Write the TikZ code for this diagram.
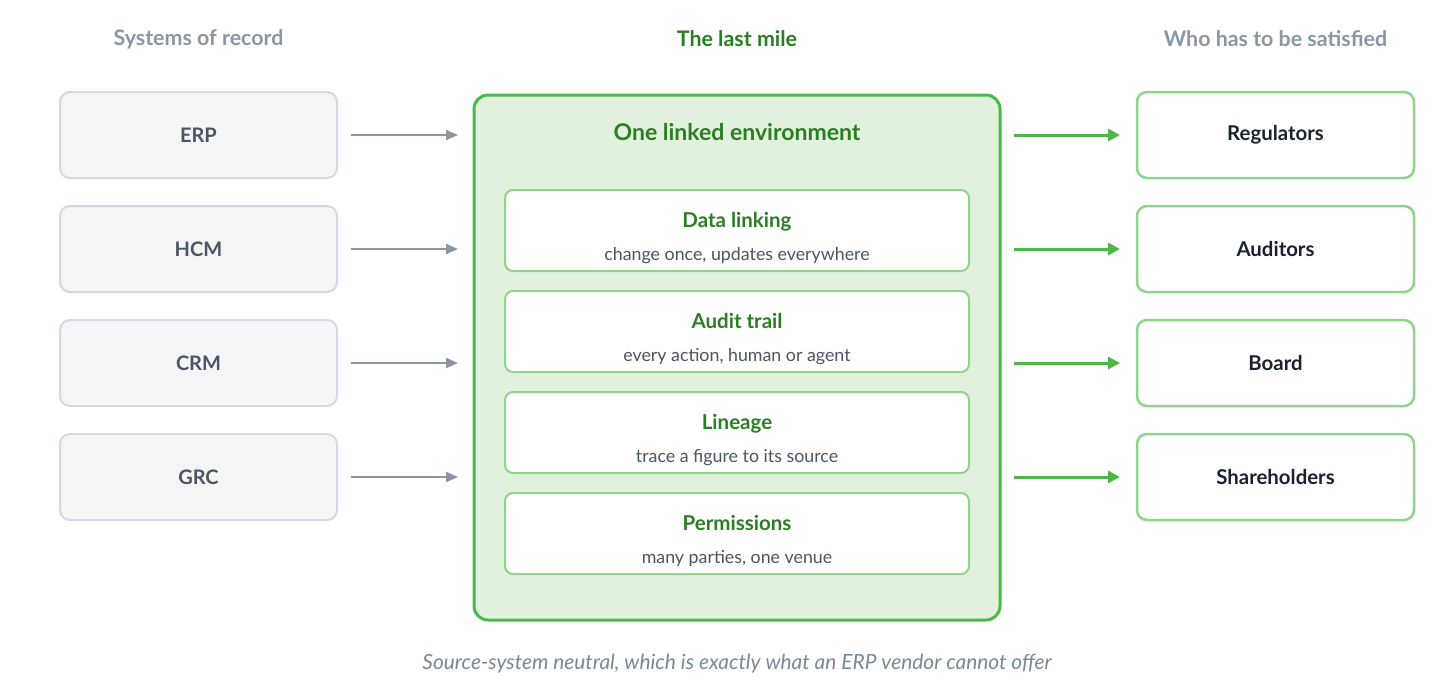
\documentclass[tikz,border=0pt]{standalone}
\usepackage{fontspec}
\setmainfont{Lato}
\usetikzlibrary{arrows.meta, positioning, calc}
\definecolor{headgray}{HTML}{8A96A3}
\definecolor{srcfill}{HTML}{F3F5F7}
\definecolor{srcline}{HTML}{D4DAE0}
\definecolor{slate}{HTML}{4B5563}
\definecolor{envgreen}{HTML}{4CB847}
\definecolor{envfill}{HTML}{E1F1DE}
\definecolor{darkgreen}{HTML}{2A7F22}
\definecolor{lightgreen}{HTML}{8FD48A}
\definecolor{inkdark}{HTML}{1A2230}
\definecolor{notegray}{HTML}{7A8796}
\tikzset{
  header/.style={
    font=\fontsize{21.4}{25}\selectfont\bfseries, text=headgray
  },
  source/.style={
    rectangle, rounded corners=10pt,
    minimum width=277pt, minimum height=86pt,
    text centered, draw=srcline, fill=srcfill, line width=2pt,
    text=slate, font=\fontsize{20}{24}\selectfont\bfseries
  },
  envbox/.style={
    rectangle, rounded corners=14pt,
    minimum width=526pt, minimum height=525pt,
    draw=envgreen, fill=envfill, line width=3pt
  },
  feature/.style={
    rectangle, rounded corners=8pt,
    minimum width=464pt, minimum height=81pt,
    text centered, align=center, draw=lightgreen, fill=white, line width=2pt,
    text=darkgreen, font=\fontsize{20.5}{33}\selectfont\bfseries
  },
  party/.style={
    rectangle, rounded corners=10pt,
    minimum width=277pt, minimum height=86pt,
    text centered, draw=lightgreen, fill=white, line width=2.5pt,
    text=inkdark, font=\fontsize{20.4}{24}\selectfont\bfseries
  },
  inarrow/.style={-{Triangle[length=12pt, width=10pt]}, line width=2pt, draw=headgray, fill=headgray},
  outarrow/.style={-{Triangle[length=12pt, width=12pt]}, line width=3pt, draw=envgreen, fill=envgreen},
}
\newcommand{\subline}{\fontsize{17.8}{20}\selectfont\mdseries\color{slate}}
\newcommand{\toppad}{\rule{0pt}{30pt}}

\begin{document}
\begin{tikzpicture}[x=1pt, y=-1pt, outer sep=0pt]
\useasboundingbox (0,0) rectangle (1456,697);

% --- Column headers ---
\node[header] (hsrc) at (198.5,39) {Systems of record};
\node[header, text=darkgreen] (hmile) at (737,39) {The last mile};
\node[header] (hparty) at (1275.5,39) {Who has to be satisfied};

% --- Systems of record ---
\node[source] (erp) at (198.5,135) {ERP};
\node[source, below=28pt of erp] (hcm) {HCM};
\node[source, below=28pt of hcm] (crm) {CRM};
\node[source, below=28pt of crm] (grc) {GRC};

% --- Linked environment ---
\node[envbox] (env) at (737,357.5) {};
\node[font=\fontsize{23}{27}\selectfont\bfseries, text=darkgreen] (envtitle) at (737,132)
  {One linked environment};

\node[feature] (linking) at (737,230.5)
  {\toppad Data linking\\{\subline change once, updates everywhere}};
\node[feature, below=20pt of linking] (trail)
  {\toppad Audit trail\\{\subline every action, human or agent}};
\node[feature, below=20pt of trail] (lineage)
  {\toppad Lineage\\{\subline trace a figure to its source}};
\node[feature, below=20pt of lineage] (perms)
  {\toppad Permissions\\{\subline many parties, one venue}};

% --- Who has to be satisfied ---
\node[party] (reg) at (1275.5,135) {Regulators};
\node[party, below=28pt of reg] (aud) {Auditors};
\node[party, below=28pt of aud] (board) {Board};
\node[party, below=28pt of board] (share) {Shareholders};

% --- Inbound arrows ---
\foreach \src in {erp, hcm, crm, grc}
  \draw[inarrow, shorten <=14pt, shorten >=16pt] (\src.east) -- (\src.east -| env.west);

% --- Outbound arrows ---
\foreach \dst in {reg, aud, board, share}
  \draw[outarrow, shorten <=14pt, shorten >=17pt] (env.east |- \dst.west) -- (\dst.west);

% --- Footnote ---
\node[font=\fontsize{20.9}{24}\selectfont\itshape, text=notegray] (note) at (737,664)
  {Source-system neutral, which is exactly what an ERP vendor cannot offer};

\end{tikzpicture}
\end{document}
